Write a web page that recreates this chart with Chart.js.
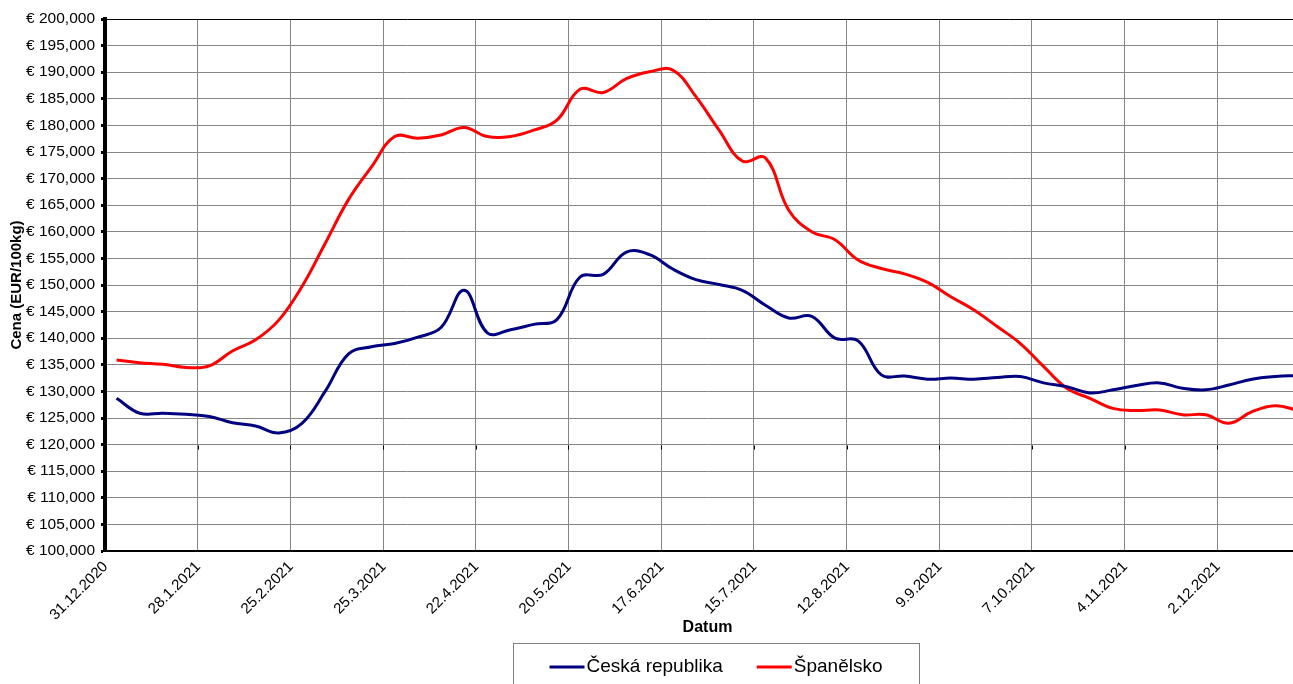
<!DOCTYPE html>
<html>
<head>
<meta charset="utf-8">
<script src="https://cdn.jsdelivr.net/npm/chart.js@4.4.0/dist/chart.umd.min.js"></script>
<style>
  html, body { margin: 0; padding: 0; background: #fff; overflow: hidden; }
  #wrap { position: relative; width: 1320px; height: 684px; }
</style>
</head>
<body>
<div id="wrap"><canvas id="myChart"></canvas></div>
<script>
// weekly prices, 31.12.2020 - 23.12.2021
var dates = ['31.12.2020','7.1.2021','14.1.2021','21.1.2021','28.1.2021','4.2.2021','11.2.2021','18.2.2021',
  '25.2.2021','4.3.2021','11.3.2021','18.3.2021','25.3.2021','1.4.2021','8.4.2021','15.4.2021',
  '22.4.2021','29.4.2021','6.5.2021','13.5.2021','20.5.2021','27.5.2021','3.6.2021','10.6.2021',
  '17.6.2021','24.6.2021','1.7.2021','8.7.2021','15.7.2021','22.7.2021','29.7.2021','5.8.2021',
  '12.8.2021','19.8.2021','26.8.2021','2.9.2021','9.9.2021','16.9.2021','23.9.2021','30.9.2021',
  '7.10.2021','14.10.2021','21.10.2021','28.10.2021','4.11.2021','11.11.2021','18.11.2021','25.11.2021',
  '2.12.2021','9.12.2021','16.12.2021','23.12.2021'];

var czech = [128700, 125900, 125900, 125700, 125300, 124100, 123500, 122200,
  124000, 130000, 137000, 138400, 139000, 140200, 142000, 149000,
  141000, 141600, 142600, 143500, 151500, 152000, 156200, 155700,
  153000, 151000, 150100, 149000, 146200, 143800, 144100, 140000,
  139500, 133100, 132900, 132300, 132500, 132300, 132600, 132800,
  131600, 130900, 129700, 130300, 131100, 131600, 130600, 130300,
  131200, 132300, 132800, 133000];

var spain = [135900, 135400, 135100, 134500, 134800, 137600, 139700, 143400,
  149700, 157800, 166000, 172200, 177900, 177600, 178200, 179600,
  177900, 177900, 179100, 181000, 186800, 186200, 188800, 190100,
  190400, 185400, 179100, 173300, 173900, 164100, 160000, 158500,
  154700, 153100, 152100, 150500, 147800, 145300, 142200, 139000,
  134700, 130600, 128700, 126800, 126400, 126500, 125600, 125600,
  124000, 126200, 127300, 126400];

var seriesNames = ['Česká republika', 'Španělsko'];
var seriesColors = ['#000080', '#ff0000'];
var yTitle = 'Cena (EUR/100kg)';
var xTitle = 'Datum';
var yMin = 100000, yMax = 200000, yStep = 5000;

var fontFamily = "'Liberation Sans', Arial, sans-serif";
var gridGray = '#868686';

// Chart.js legend has no frame, so draw the excel-like legend box by hand
var boxLegend = {
  id: 'boxLegend',
  afterDraw: function (chart) {
    var ctx = chart.ctx;
    var left = 513, top = 643, width = 406, height = 60;
    ctx.save();
    ctx.strokeStyle = '#808080';
    ctx.lineWidth = 1;
    ctx.strokeRect(left + 0.5, top + 0.5, width, height);

    ctx.font = '19px ' + fontFamily;
    ctx.textBaseline = 'middle';
    var lineLen = 35, gap = 2, itemGap = 34;
    var total = 0;
    chart.data.datasets.forEach(function (ds, i) {
      total += lineLen + gap + ctx.measureText(ds.label).width;
      if (i > 0) total += itemGap;
    });
    var x = left + (width - total) / 2;
    var y = top + 24;
    chart.data.datasets.forEach(function (ds) {
      ctx.strokeStyle = ds.borderColor;
      ctx.lineWidth = 3;
      ctx.beginPath();
      ctx.moveTo(x, y);
      ctx.lineTo(x + lineLen, y);
      ctx.stroke();
      x += lineLen + gap;
      ctx.fillStyle = '#000';
      ctx.fillText(ds.label, x, y);
      x += ctx.measureText(ds.label).width + itemGap;
    });
    ctx.restore();
  }
};

// the little black ticks sitting under the 120,000 gridline
var crossTicks = {
  id: 'crossTicks',
  beforeDatasetsDraw: function (chart) {
    var ctx = chart.ctx;
    var xs = chart.scales.x, ys = chart.scales.y;
    var y = Math.round(ys.getPixelForValue(120000)) + 0.5;
    var half = (xs.getPixelForValue(1) - xs.getPixelForValue(0)) / 2;
    ctx.save();
    ctx.strokeStyle = '#000';
    ctx.lineWidth = 1;
    for (var i = 4; i < dates.length; i += 4) {
      var x = Math.round(xs.getPixelForValue(i) - half) + 0.5;
      ctx.beginPath();
      ctx.moveTo(x, y);
      ctx.lineTo(x, y + 4);
      ctx.stroke();
    }
    ctx.restore();
  }
};

var ctx = document.getElementById('myChart');
var myChart = new Chart(ctx, {
  type: 'line',
  data: {
    labels: dates,
    datasets: [
      {
        label: seriesNames[0],
        data: czech,
        borderColor: seriesColors[0],
        backgroundColor: seriesColors[0],
        borderWidth: 3,
        pointRadius: 0,
        tension: 0.4,
        fill: false
      },
      {
        label: seriesNames[1],
        data: spain,
        borderColor: seriesColors[1],
        backgroundColor: seriesColors[1],
        borderWidth: 3,
        pointRadius: 0,
        tension: 0.4,
        fill: false
      }
    ]
  },
  options: {
    responsive: true,
    maintainAspectRatio: false,
    animation: false,
    layout: { padding: { top: 19, right: 10, bottom: 47, left: 0 } },
    plugins: {
      legend: { display: false },
      tooltip: { enabled: false }
    },
    scales: {
      x: {
        offset: true,
        afterFit: function (scale) { scale.height = 86; },
        border: { color: '#000', width: 2 },
        grid: {
          offset: true,
          color: function (c) { return c.index % 4 === 0 ? gridGray : 'rgba(0,0,0,0)'; },
          tickColor: 'rgba(0,0,0,0)',
          tickLength: 4
        },
        ticks: {
          autoSkip: false,
          minRotation: 45,
          maxRotation: 45,
          padding: 3,
          labelOffset: -11,
          color: '#000',
          font: { family: fontFamily, size: 15 },
          callback: function (value, index) { return index % 4 === 0 ? dates[index] : ''; }
        },
        title: {
          display: true,
          text: xTitle,
          color: '#000',
          padding: { top: 0, bottom: 0 },
          font: { family: fontFamily, size: 16, weight: 'bold' }
        }
      },
      y: {
        min: yMin,
        max: yMax,
        afterFit: function (scale) { scale.width = 105; },
        border: { color: '#000', width: 4 },
        grid: {
          color: function (c) { return c.tick && c.tick.value === yMax ? '#000' : gridGray; },
          tickColor: '#000',
          tickWidth: 3,
          tickLength: 4
        },
        ticks: {
          stepSize: yStep,
          padding: 6,
          color: '#000',
          font: { family: fontFamily, size: 15.5 },
          callback: function (v) { return '€ ' + v.toLocaleString('en-US'); }
        },
        title: {
          display: true,
          text: yTitle,
          color: '#000',
          padding: { top: 8, bottom: 0 },
          font: { family: fontFamily, size: 15, weight: 'bold' }
        }
      }
    }
  },
  plugins: [boxLegend, crossTicks]
});
</script>
</body>
</html>
